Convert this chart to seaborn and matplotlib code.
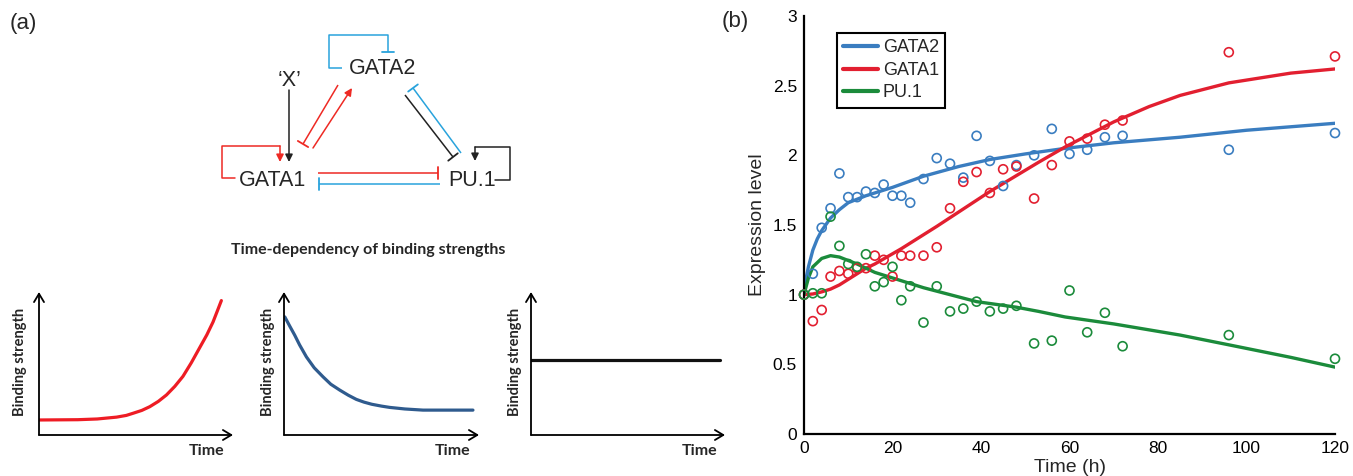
import matplotlib
matplotlib.use("Agg")
import matplotlib.pyplot as plt
import seaborn as sns

# ------------------------------------
# Panel (b) data: measured expression (open circles)
# ------------------------------------
time_h = [0, 2, 4, 6, 8, 10, 12, 14, 16, 18, 20, 22, 24, 27, 30, 33, 36, 39,
          42, 45, 48, 52, 56, 60, 64, 68, 72, 96, 120]
gata2_obs = [1.00, 1.15, 1.48, 1.62, 1.87, 1.70, 1.70, 1.74, 1.73, 1.79, 1.71,
             1.71, 1.66, 1.83, 1.98, 1.94, 1.84, 2.14, 1.96, 1.78, 1.93, 2.00,
             2.19, 2.01, 2.04, 2.13, 2.14, 2.04, 2.16]
gata1_obs = [1.00, 0.81, 0.89, 1.13, 1.17, 1.15, 1.19, 1.19, 1.28, 1.25, 1.13,
             1.28, 1.28, 1.28, 1.34, 1.62, 1.81, 1.88, 1.73, 1.90, 1.92, 1.69,
             1.93, 2.10, 2.12, 2.22, 2.25, 2.74, 2.71]
pu1_obs = [1.00, 1.01, 1.01, 1.56, 1.35, 1.22, 1.20, 1.29, 1.06, 1.09, 1.20,
           0.96, 1.06, 0.80, 1.06, 0.88, 0.90, 0.95, 0.88, 0.90, 0.92, 0.65,
           0.67, 1.03, 0.73, 0.87, 0.63, 0.71, 0.54]

# model curves
gata2_fit_t = [0, 0.5, 1, 2, 3, 4, 6, 8, 10, 14, 20, 27, 35, 42, 50, 59, 70,
               85, 100, 120]
gata2_fit = [1.00, 1.12, 1.20, 1.32, 1.40, 1.46, 1.55, 1.61, 1.66, 1.71, 1.77,
             1.85, 1.92, 1.97, 2.01, 2.05, 2.09, 2.13, 2.18, 2.23]
gata1_fit_t = [0, 2, 4, 6, 8, 10, 12, 14, 16, 22, 30, 42, 53, 59, 70, 78, 85,
               96, 110, 120]
gata1_fit = [1.00, 1.005, 1.02, 1.04, 1.07, 1.11, 1.15, 1.19, 1.22, 1.33, 1.49,
             1.74, 1.95, 2.06, 2.24, 2.35, 2.43, 2.52, 2.59, 2.62]
pu1_fit_t = [0, 1, 2, 4, 6, 8, 12, 16, 22, 27, 33, 39, 48, 53, 59, 70, 85, 96,
             110, 120]
pu1_fit = [1.00, 1.12, 1.20, 1.26, 1.28, 1.27, 1.22, 1.16, 1.10, 1.05, 1.00,
           0.95, 0.91, 0.88, 0.84, 0.79, 0.71, 0.64, 0.55, 0.48]

series_names = ["GATA2", "GATA1", "PU.1"]
x_ticks = [0, 20, 40, 60, 80, 100, 120]
y_ticks = [0, 0.5, 1, 1.5, 2, 2.5, 3]
y_tick_labels = ["0", "0.5", "1", "1.5", "2", "2.5", "3"]

# ------------------------------------
# Panel (a) schematic curves (axes units 0..1)
# ------------------------------------
rise_x = [0, 0.2, 0.3, 0.4, 0.45, 0.485, 0.53, 0.571, 0.615, 0.657, 0.7, 0.742,
          0.785, 0.828, 0.865, 0.897, 0.92, 0.94]
rise_y = [0.105, 0.107, 0.112, 0.125, 0.137, 0.152, 0.172, 0.198, 0.235, 0.28,
          0.34, 0.41, 0.505, 0.61, 0.70, 0.79, 0.87, 0.94]
decay_x = [0.004, 0.03, 0.055, 0.08, 0.115, 0.155, 0.2, 0.24, 0.286, 0.33,
           0.371, 0.41, 0.45, 0.5, 0.542, 0.62, 0.713, 0.969]
decay_y = [0.826, 0.76, 0.698, 0.63, 0.546, 0.47, 0.407, 0.355, 0.314, 0.278,
           0.249, 0.23, 0.215, 0.202, 0.193, 0.182, 0.174, 0.174]
const_x = [0, 0.974]
const_y = [0.523, 0.523]

W, H = 1353, 476

sns.set_theme(style="white")
plt.rcParams["font.family"] = ["Liberation Sans", "DejaVu Sans"]

fig = plt.figure(figsize=(W / 100, H / 100), dpi=100)


def px_axes(left, top, right, bottom):
    # axes placed from pixel box of the reference image
    return fig.add_axes([left / W, 1 - bottom / H, (right - left) / W,
                         (bottom - top) / H])


# ------------------------------------
# Network diagram (pixel coordinates overlay)
# ------------------------------------
net = fig.add_axes([0, 0, 1, 1])
net.set_xlim(0, W)
net.set_ylim(H, 0)
net.axis("off")

RED = "#ee2a24"
BLUE = "#29a3dc"
BLACK = "#222222"

nodes = {"GATA2": (383, 69), "GATA1": (272, 180), "PU.1": (472, 180)}
for name, (x, y) in nodes.items():
    net.text(x, y, name, fontsize=15.5, ha="center", va="center")
net.text(290, 80, "\u2018X\u2019", fontsize=15.5, ha="center", va="center")

# (kind, colour, polyline)
edges = [
    ("T", BLUE, [(342, 68), (329, 68), (329, 35), (388, 35), (388, 52)]),
    (">", RED, [(235, 178), (222, 178), (222, 146), (280, 146), (280, 162)]),
    (">", BLACK, [(289, 90), (289, 162)]),
    (">", BLACK, [(495, 180), (510, 180), (510, 147), (475, 147), (475, 161)]),
    ("T", RED, [(338, 85), (303, 144)]),
    (">", RED, [(313, 148), (352, 88)]),
    ("T", BLACK, [(405, 95), (453, 157)]),
    ("T", BLUE, [(461, 153), (413, 88)]),
    ("T", RED, [(318, 173), (438, 173)]),
    ("T", BLUE, [(440, 184), (319, 184)]),
]

for kind, col, pts in edges:
    xs = [p[0] for p in pts]
    ys = [p[1] for p in pts]
    if kind == "T":
        net.plot(xs, ys, color=col, lw=1.1, solid_capstyle="butt")
        (x0, y0), (x1, y1) = pts[-2], pts[-1]
        dx, dy = x1 - x0, y1 - y0
        n = (dx ** 2 + dy ** 2) ** 0.5
        px, py = -dy / n * 6, dx / n * 6
        net.plot([x1 - px, x1 + px], [y1 - py, y1 + py], color=col, lw=1.3)
    else:
        if len(pts) > 2:
            net.plot(xs[:-1], ys[:-1], color=col, lw=1.1)
        net.annotate("", xy=pts[-1], xytext=pts[-2],
                     arrowprops=dict(arrowstyle="-|>", color=col, lw=1.1,
                                     shrinkA=0, shrinkB=0, mutation_scale=11))

fig.text(10 / W, 1 - 24 / H, "(a)", fontsize=16, va="center")
fig.text(722 / W, 1 - 21 / H, "(b)", fontsize=16, va="center")

fig.text(368 / W, 1 - 250 / H, "Time-dependency of binding strengths",
         fontsize=11.5, fontweight="bold", family=["Lato", "DejaVu Sans"],
         ha="center", va="center")

# ------------------------------------
# Binding strength schematics
# ------------------------------------
schematics = [
    ((39, 292, 233, 435), rise_x, rise_y, "#ee1c24", -0.1, 0.864),
    ((284, 292, 479, 435), decay_x, decay_y, "#2f5b8e", -0.082, 0.864),
    ((531, 292, 725, 435), const_x, const_y, "#111111", -0.081, 0.871),
]

for box, sx, sy, col, lab_x, time_x in schematics:
    ax = px_axes(*box)
    ax.set_facecolor("none")
    sns.lineplot(x=sx, y=sy, color=col, lw=2.3, ax=ax, sort=False)
    ax.set_xlim(0, 1)
    ax.set_ylim(0, 1)
    for s in ax.spines.values():
        s.set_visible(False)
    ax.set_xticks([])
    ax.set_yticks([])
    arrow = dict(arrowstyle="->,head_length=0.5,head_width=0.3", lw=1.3,
                 color="black", shrinkA=0, shrinkB=0)
    ax.annotate("", xy=(1, 0), xytext=(0, 0), xycoords="axes fraction",
                arrowprops=arrow, annotation_clip=False)
    ax.annotate("", xy=(0, 1), xytext=(0, 0), xycoords="axes fraction",
                arrowprops=arrow, annotation_clip=False)
    ax.text(lab_x, 0.51, "Binding strength", rotation=90, transform=ax.transAxes,
            ha="center", va="center", fontsize=10.5, fontweight="bold",
            family=["Lato", "DejaVu Sans"])
    ax.text(time_x, -0.115, "Time", transform=ax.transAxes, ha="center",
            va="center", fontsize=11.5, fontweight="bold",
            family=["Lato", "DejaVu Sans"])

# ------------------------------------
# Panel (b): expression time course
# ------------------------------------
colors = ["#3a7dc0", "#e21f30", "#1b8b3b"]
obs = [gata2_obs, gata1_obs, pu1_obs]
fits = [(gata2_fit_t, gata2_fit), (gata1_fit_t, gata1_fit), (pu1_fit_t, pu1_fit)]

axb = px_axes(804, 16, 1335, 434)
axb.set_facecolor("none")

for name, col, yo, (ft, fv) in zip(series_names, colors, obs, fits):
    sns.lineplot(x=ft, y=fv, color=col, lw=2.4, label=name, ax=axb)
    sns.scatterplot(x=time_h, y=yo, marker="o", s=42, color=col,
                    facecolor="none", edgecolor=col, linewidth=1.2,
                    legend=False, ax=axb, clip_on=False, zorder=3)

axb.set_xlim(0, 120)
axb.set_ylim(0, 3)
axb.set_xticks(x_ticks)
axb.set_yticks(y_ticks)
axb.set_yticklabels(y_tick_labels)
axb.tick_params(direction="in", length=5, width=1.5, labelsize=12.5, pad=5,
                colors="black")
for side in ["top", "right"]:
    axb.spines[side].set_visible(False)
for side in ["left", "bottom"]:
    axb.spines[side].set_linewidth(1.6)
    axb.spines[side].set_color("black")

axb.set_xlabel("Time (h)", fontsize=14, labelpad=2)
axb.set_ylabel("Expression level", fontsize=14, labelpad=5)

leg = axb.legend(loc="upper left", bbox_to_anchor=(0.062, 0.959), frameon=True,
                 fancybox=False, edgecolor="black", framealpha=1,
                 handlelength=1.95, handletextpad=0.25, labelspacing=0.3,
                 borderpad=0.35, borderaxespad=0, fontsize=13)
leg.get_frame().set_linewidth(1.5)
for line in leg.get_lines():
    line.set_linewidth(3)

fig.savefig("out.png", dpi=100)
